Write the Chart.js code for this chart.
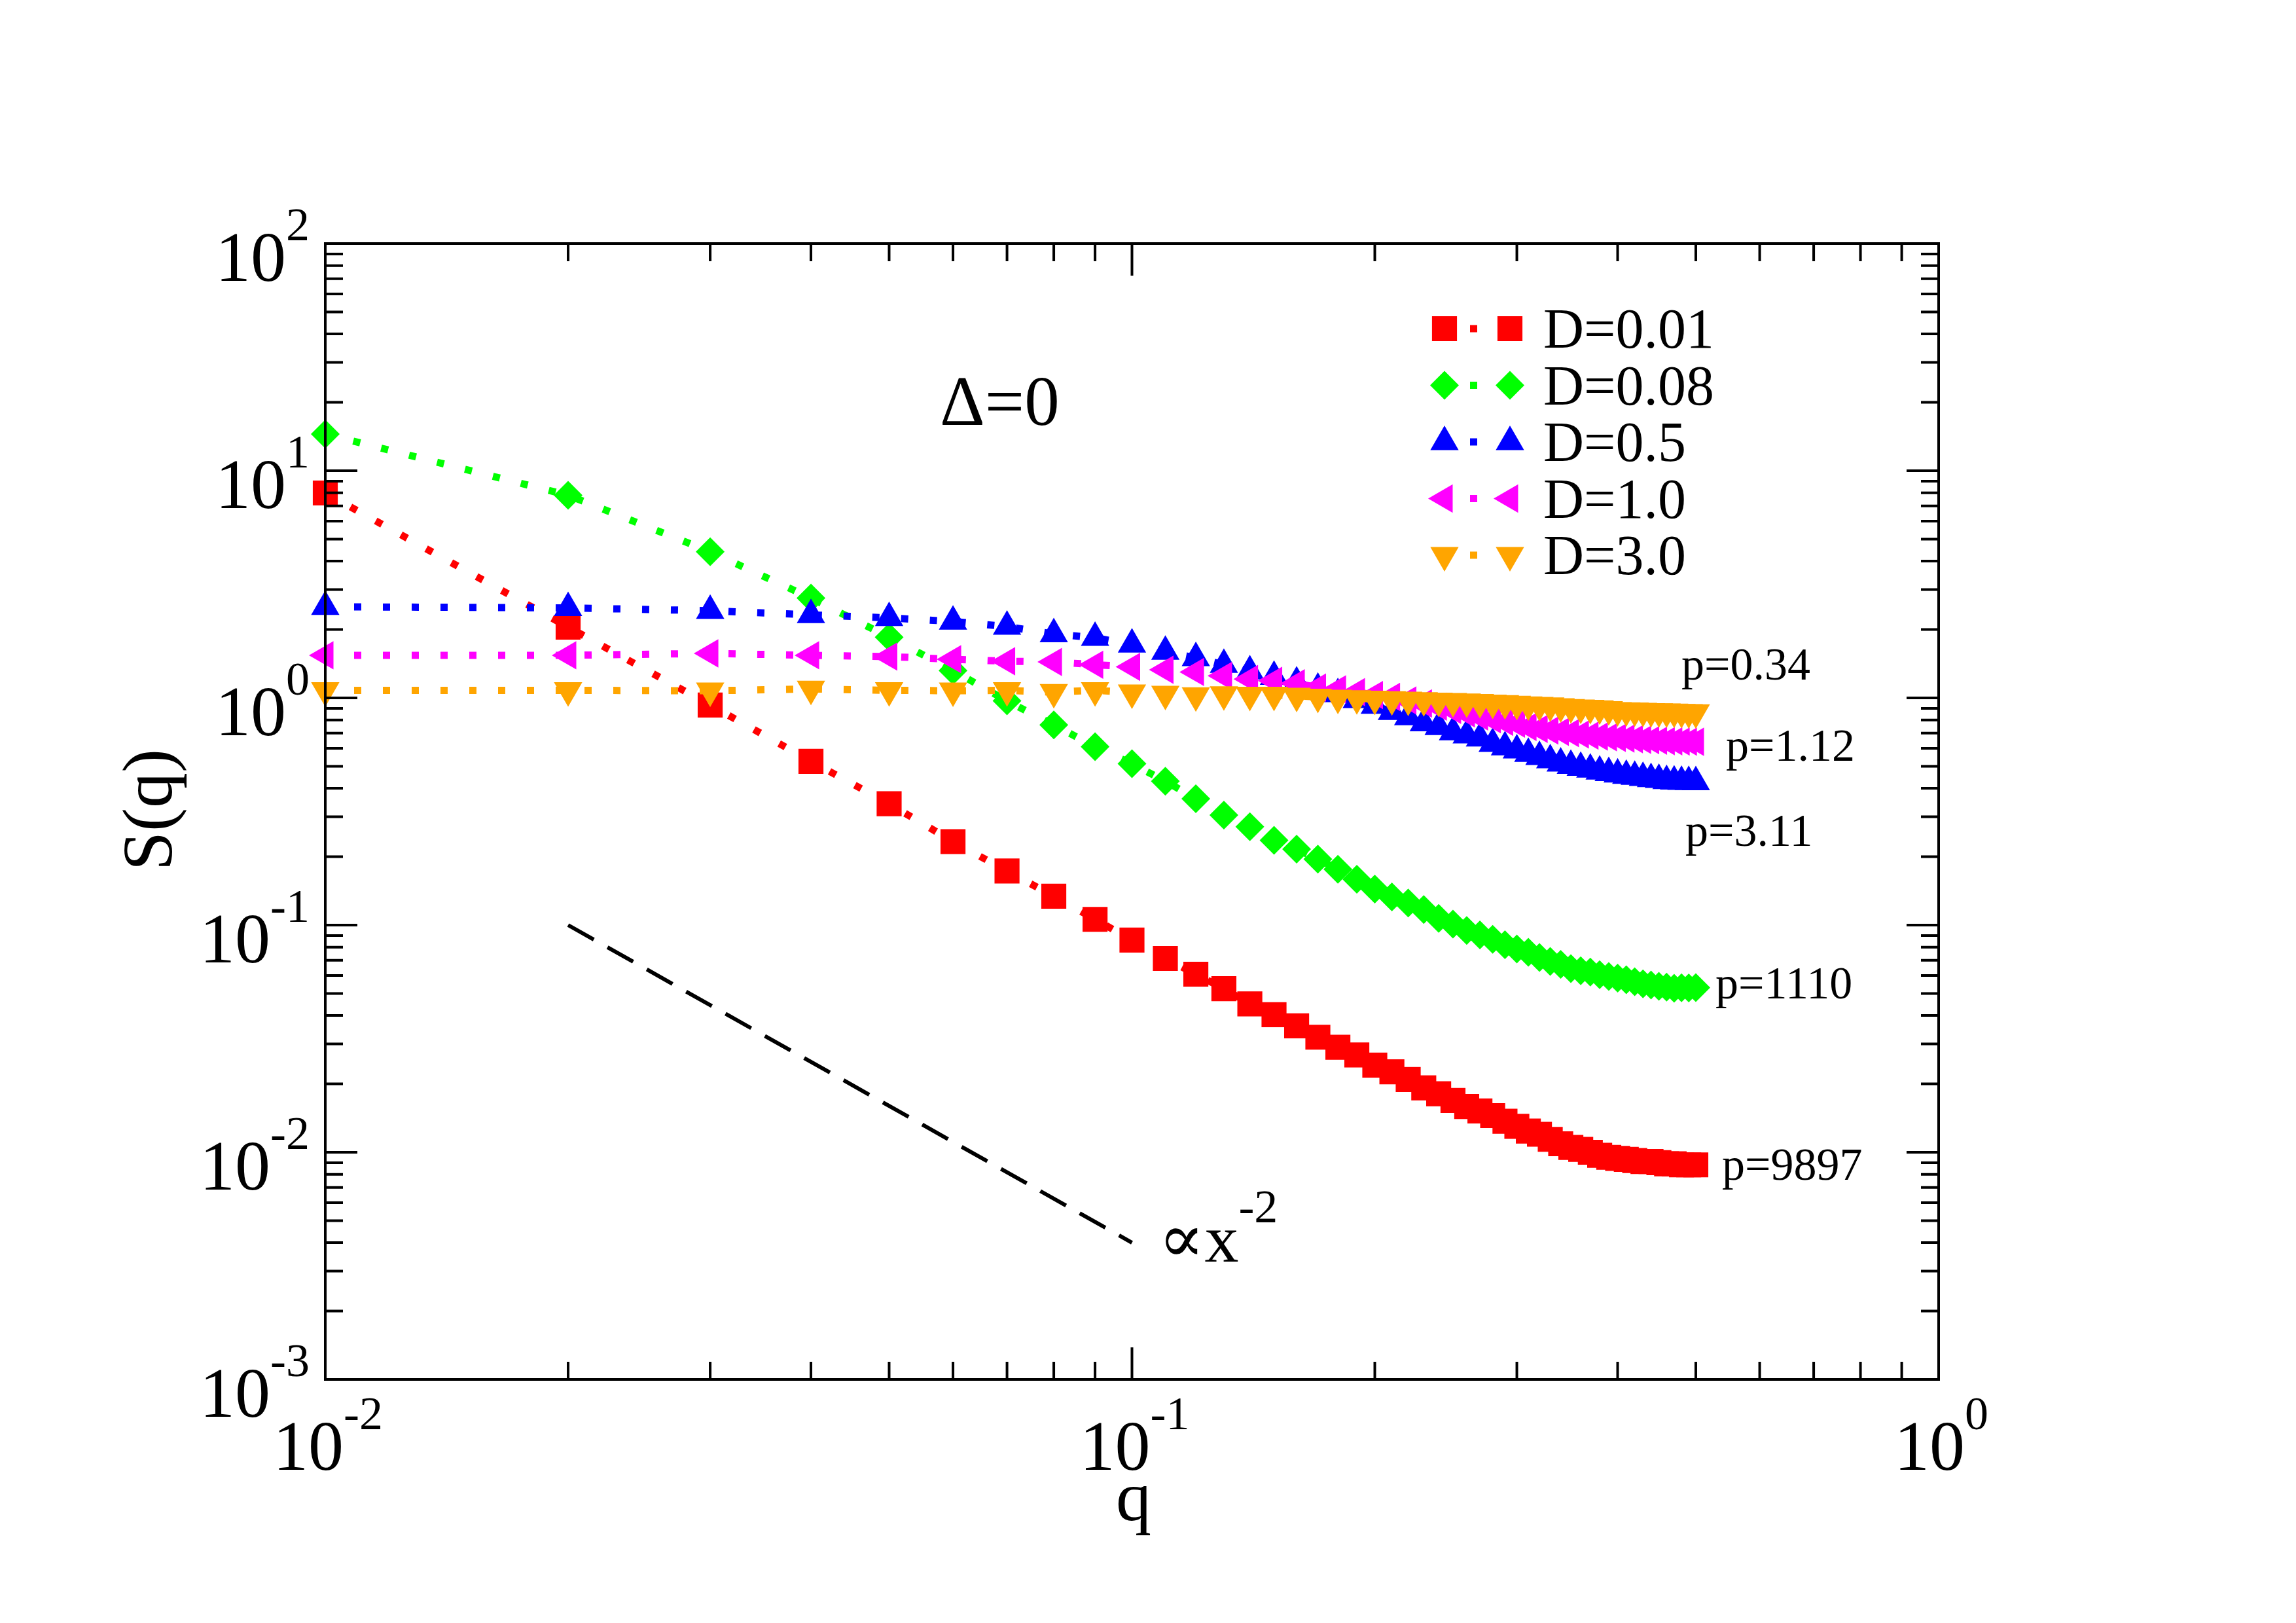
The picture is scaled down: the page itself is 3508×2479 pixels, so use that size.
<!DOCTYPE html>
<html>
<head>
<meta charset="utf-8">
<title>S(q)</title>
<script src="https://cdn.jsdelivr.net/npm/chart.js@4.4.0/dist/chart.umd.min.js"></script>
<style>
  html, body { margin: 0; padding: 0; background: #ffffff; }
  canvas { display: block; }
</style>
</head>
<body>
<canvas id="chart" width="3508" height="2479" style="width:3508px;height:2479px"></canvas>
<script>
// q grid shared by every series
const qValues = [0.01, 0.02, 0.03, 0.04, 0.05, 0.06, 0.07, 0.08, 0.09, 0.10,
                 0.11, 0.12, 0.13, 0.14, 0.15, 0.16, 0.17, 0.18, 0.19, 0.20,
                 0.21, 0.22, 0.23, 0.24, 0.25, 0.26, 0.27, 0.28, 0.29, 0.30,
                 0.31, 0.32, 0.33, 0.34, 0.35, 0.36, 0.37, 0.38, 0.39, 0.40,
                 0.41, 0.42, 0.43, 0.44, 0.45, 0.46, 0.47, 0.48, 0.49, 0.50];

// S(q)
const sD001 = [7.98, 2.05, 0.93, 0.526, 0.342, 0.233, 0.173, 0.134, 0.106, 0.0859,
               0.0713, 0.0608, 0.0525, 0.0450, 0.0403, 0.0360, 0.0321, 0.0290, 0.0268, 0.0242,
               0.0226, 0.0209, 0.0192, 0.0181, 0.0169, 0.0159, 0.0152, 0.0145, 0.0137, 0.0130,
               0.0124, 0.0120, 0.0114, 0.0109, 0.0105, 0.0103, 0.0100, 0.0097, 0.0095, 0.0094,
               0.0093, 0.0092, 0.0091, 0.0091, 0.0090, 0.0089, 0.0089, 0.0088, 0.0088, 0.0088];
const sD008 = [14.5, 7.8, 4.4, 2.75, 1.85, 1.32, 0.97, 0.76, 0.61, 0.513,
               0.430, 0.360, 0.305, 0.271, 0.236, 0.216, 0.195, 0.176, 0.159, 0.144,
               0.133, 0.125, 0.117, 0.107, 0.101, 0.0946, 0.0905, 0.0866, 0.0820, 0.0785,
               0.0759, 0.0720, 0.0692, 0.0672, 0.0643, 0.0630, 0.0621, 0.0605, 0.0594, 0.0584,
               0.0575, 0.0563, 0.0551, 0.0545, 0.0538, 0.0533, 0.0527, 0.0530, 0.0529, 0.0531];
const sD05  = [2.52, 2.49, 2.42, 2.32, 2.25, 2.17, 2.06, 1.91, 1.84, 1.72,
               1.60, 1.50, 1.40, 1.31, 1.24, 1.17, 1.10, 1.04, 0.98, 0.925,
               0.869, 0.824, 0.775, 0.745, 0.707, 0.685, 0.664, 0.628, 0.607, 0.588,
               0.568, 0.550, 0.532, 0.515, 0.503, 0.493, 0.484, 0.475, 0.468, 0.461,
               0.455, 0.450, 0.445, 0.440, 0.436, 0.431, 0.429, 0.428, 0.427, 0.426];
const sD10  = [1.54, 1.54, 1.57, 1.54, 1.52, 1.48, 1.45, 1.44, 1.40, 1.37,
               1.33, 1.30, 1.25, 1.21, 1.19, 1.16, 1.11, 1.09, 1.06, 1.03,
               1.01, 0.975, 0.945, 0.915, 0.885, 0.855, 0.828, 0.805, 0.785, 0.770,
               0.745, 0.730, 0.718, 0.709, 0.700, 0.690, 0.682, 0.676, 0.671, 0.667,
               0.662, 0.658, 0.654, 0.651, 0.648, 0.645, 0.644, 0.643, 0.642, 0.641];
const sD30  = [1.08, 1.08, 1.075, 1.095, 1.08, 1.075, 1.08, 1.06, 1.08, 1.055,
               1.04, 1.025, 1.035, 1.03, 1.03, 1.02, 1.01, 1.00, 0.995, 0.99,
               0.985, 0.98, 0.975, 0.97, 0.968, 0.963, 0.958, 0.952, 0.946, 0.940,
               0.935, 0.930, 0.925, 0.918, 0.910, 0.906, 0.902, 0.898, 0.890, 0.882,
               0.880, 0.878, 0.875, 0.873, 0.871, 0.870, 0.868, 0.866, 0.864, 0.863];

// dashed guide  ~ x^-2
const guideQ = [0.02, 0.1];
const guideS = [0.1, 0.004];

const seriesLabels = ['D=0.01', 'D=0.08', 'D=0.5', 'D=1.0', 'D=3.0'];
const seriesColors = ['#ff0000', '#00ff00', '#0000ff', '#ff00ff', '#ffa500'];

// axis decades (exponents)
const xDecades = [-2, -1, 0];
const yDecades = [-3, -2, -1, 0, 1, 2];

// end-of-curve annotations
const pLabels = ['p=0.34', 'p=1.12', 'p=3.11', 'p=1110', 'p=9897'];

const SERIF = '"Liberation Serif", "DejaVu Serif", "Times New Roman", serif';

function pts(xs, ys) {
    return xs.map((q, i) => ({ x: q, y: ys[i] }));
}

const markerStyles = [
    { pointStyle: 'rect', radius: 27, rotation: 0 },
    { pointStyle: 'rectRot', radius: 22, rotation: 0 },
    { pointStyle: 'triangle', radius: 25, rotation: 0 },
    { pointStyle: 'triangle', radius: 25, rotation: 270 },
    { pointStyle: 'triangle', radius: 25, rotation: 180 }
];

const seriesValues = [sD001, sD008, sD05, sD10, sD30];

const datasets = seriesValues.map((vals, i) => ({
    label: seriesLabels[i],
    data: pts(qValues, vals),
    showLine: true,
    borderColor: seriesColors[i],
    borderWidth: 11,
    borderDash: [11, 33],
    borderCapStyle: 'butt',
    backgroundColor: seriesColors[i],
    pointBackgroundColor: seriesColors[i],
    pointBorderWidth: 0,
    pointStyle: markerStyles[i].pointStyle,
    pointRadius: markerStyles[i].radius,
    pointRotation: markerStyles[i].rotation,
    clip: false,
    order: 10 - i
}));

datasets.push({
    label: 'guide',
    data: pts(guideQ, guideS),
    showLine: true,
    borderColor: '#000000',
    borderWidth: 6,
    borderDash: [45, 24],
    borderCapStyle: 'butt',
    pointRadius: 0,
    order: 20
});

function drawPower(ctx, base, exp, x, y, align, bigSize, smallSize, rise) {
    ctx.font = bigSize + 'px ' + SERIF;
    const wb = ctx.measureText(base).width;
    ctx.font = smallSize + 'px ' + SERIF;
    const we = ctx.measureText(exp).width;
    const total = wb + we;
    let left = x;
    if (align === 'center') left = x - total / 2;
    if (align === 'right') left = x - total;
    ctx.textAlign = 'left';
    ctx.textBaseline = 'alphabetic';
    ctx.font = bigSize + 'px ' + SERIF;
    ctx.fillText(base, left, y);
    ctx.font = smallSize + 'px ' + SERIF;
    ctx.fillText(exp, left + wb, y - rise);
}

const framePlugin = {
    id: 'frame',
    afterDraw(chart) {
        const { ctx, chartArea: a, scales: { x, y } } = chart;
        ctx.save();
        ctx.strokeStyle = '#000';
        ctx.fillStyle = '#000';
        ctx.lineWidth = 4;
        ctx.setLineDash([]);
        ctx.strokeRect(a.left, a.top, a.right - a.left, a.bottom - a.top);

        // x ticks, inward, top and bottom
        xDecades.forEach(d => {
            for (let m = 1; m <= 9; m++) {
                const v = m * Math.pow(10, d);
                if (v > x.max * 1.0001) break;
                const px = x.getPixelForValue(v);
                const len = m === 1 ? 49 : 27;
                ctx.beginPath();
                ctx.moveTo(px, a.bottom); ctx.lineTo(px, a.bottom - len);
                ctx.moveTo(px, a.top); ctx.lineTo(px, a.top + len);
                ctx.stroke();
            }
        });
        // y ticks, inward, left and right
        yDecades.forEach(d => {
            for (let m = 1; m <= 9; m++) {
                const v = m * Math.pow(10, d);
                if (v > y.max * 1.0001) break;
                const py = y.getPixelForValue(v);
                const len = m === 1 ? 49 : 27;
                ctx.beginPath();
                ctx.moveTo(a.left, py); ctx.lineTo(a.left + len, py);
                ctx.moveTo(a.right, py); ctx.lineTo(a.right - len, py);
                ctx.stroke();
            }
        });

        // tick labels
        xDecades.forEach(d => {
            const px = x.getPixelForValue(Math.pow(10, d));
            drawPower(ctx, '10', String(d), px + 4, a.bottom + 138, 'center', 108, 72, 62);
        });
        yDecades.forEach(d => {
            const py = y.getPixelForValue(Math.pow(10, d));
            drawPower(ctx, '10', String(d), a.left - 24, py + 57, 'right', 108, 72, 62);
        });

        // axis titles
        ctx.font = '108px ' + SERIF;
        ctx.textAlign = 'center';
        ctx.textBaseline = 'alphabetic';
        ctx.fillText('q', 1732, 2322);
        ctx.save();
        ctx.translate(262, 1237);
        ctx.rotate(-Math.PI / 2);
        ctx.fillText('S(q)', 0, 0);
        ctx.restore();

        // Delta label
        ctx.textAlign = 'left';
        ctx.font = '107px ' + SERIF;
        ctx.fillText('\u0394=0', 1436, 649);

        // p labels
        ctx.font = '70px ' + SERIF;
        const pPos = [[2569, 1038], [2637, 1162], [2575, 1292], [2621, 1525], [2631, 1802]];
        pLabels.forEach((t, i) => ctx.fillText(t, pPos[i][0], pPos[i][1]));

        // guide label
        drawPower(ctx, '\u221Dx', '-2', 1770, 1927, 'left', 104, 72, 60);

        // legend
        const rowY0 = 502, rowDy = 86.5;
        seriesLabels.forEach((lab, i) => {
            const cy = rowY0 + i * rowDy;
            ctx.fillStyle = seriesColors[i];
            const opt = { pointStyle: markerStyles[i].pointStyle, radius: markerStyles[i].radius,
                          rotation: markerStyles[i].rotation, borderWidth: 0 };
            Chart.helpers.drawPoint(ctx, opt, 2207, cy);
            Chart.helpers.drawPoint(ctx, opt, 2307, cy);
            ctx.fillRect(2246, cy - 5.5, 11, 11);
            ctx.fillStyle = '#000';
            ctx.font = '86px ' + SERIF;
            ctx.textAlign = 'left';
            ctx.fillText(lab, 2358, cy + 29);
        });
        ctx.restore();
    }
};

new Chart(document.getElementById('chart'), {
    type: 'scatter',
    data: { datasets: datasets },
    options: {
        responsive: false,
        devicePixelRatio: 1,
        animation: false,
        events: [],
        layout: { padding: { left: 497, right: 546, top: 372, bottom: 372 } },
        plugins: { legend: { display: false }, tooltip: { enabled: false } },
        scales: {
            x: { type: 'logarithmic', min: 0.01, max: 1, display: false },
            y: { type: 'logarithmic', min: 0.001, max: 100, display: false }
        }
    },
    plugins: [framePlugin]
});
</script>
</body>
</html>
